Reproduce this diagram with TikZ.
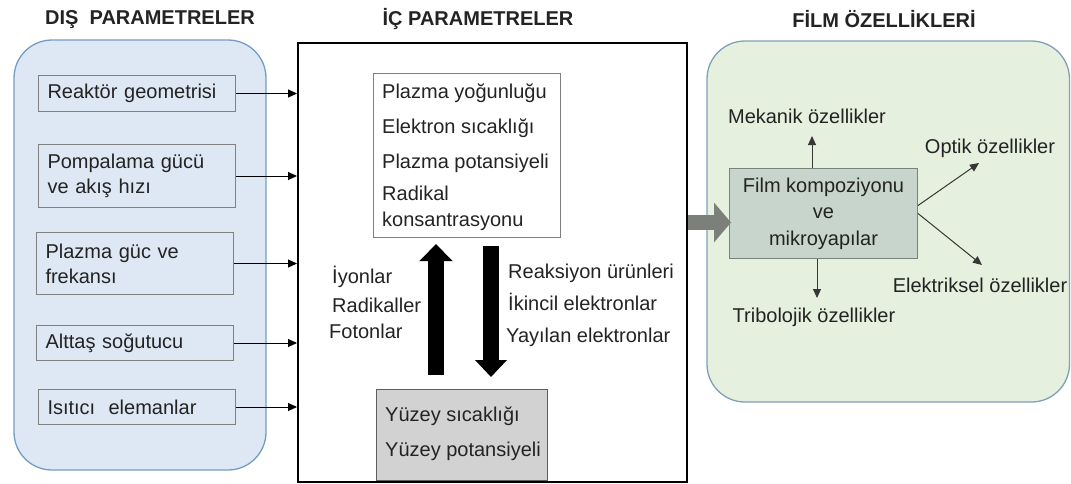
\documentclass[tikz,border=0pt]{standalone}
\usepackage{fontspec}
\setmainfont{Liberation Sans}
\usetikzlibrary{arrows.meta}

\definecolor{textc}{RGB}{35,35,35}
\definecolor{panelBlue}{RGB}{221,232,244}
\definecolor{edgeBlue}{RGB}{118,156,194}
\definecolor{panelGreen}{RGB}{230,240,222}
\definecolor{edgeGreen}{RGB}{128,160,186}
\definecolor{boxEdge}{RGB}{128,128,128}
\definecolor{filmFill}{RGB}{200,213,204}
\definecolor{filmEdge}{RGB}{120,132,122}
\definecolor{surfFill}{RGB}{210,210,210}
\definecolor{surfEdge}{RGB}{95,95,95}
\definecolor{bigGray}{RGB}{125,128,122}
\definecolor{thinArr}{RGB}{55,55,55}

\tikzset{
  bodyfont/.style={font=\fontsize{20}{25}\selectfont, text=textc},
  title/.style={font=\bfseries\fontsize{20}{22}\selectfont, text=textc, inner sep=0pt},
  panel/.style={draw=#1, line width=1.3pt, rounded corners=38pt},
  inbox/.style={draw=boxEdge, fill=panelBlue, line width=1pt, anchor=north west,
    minimum width=197pt, text width=179pt, inner xsep=9pt, inner ysep=0pt,
    align=left, bodyfont},
  lbl/.style={bodyfont, inner sep=0pt, text height=14pt, text depth=4pt},
  feed/.style={line width=1pt, draw=black, -{Triangle[length=9pt,width=8pt]}},
  prop/.style={line width=1pt, draw=thinArr, -{Triangle[length=9pt,width=8pt]}},
  fluxup/.style={line width=16pt, draw=black, -{Triangle[length=17pt,width=32pt]}},
  fluxdown/.style={line width=16pt, draw=black, -{Triangle[length=17pt,width=31pt]}},
  bigarrow/.style={line width=15pt, draw=bigGray, -{Triangle[length=17pt,width=39pt]}},
}

\begin{document}
\begin{tikzpicture}[x=1pt, y=-1pt]
\useasboundingbox[fill=white] (0,0) rectangle (1071,483);

% ---- titles ----
\node[title] (tDis) at (150,19.5) {DIŞ\ \ PARAMETRELER};
\node[title] (tIc) at (478,19.5) {İÇ PARAMETRELER};
\node[title] (tFilm) at (884,19.5) {FİLM ÖZELLİKLERİ};

% ---- external parameters panel ----
\draw[panel=edgeBlue, fill=panelBlue] (14,40) rectangle (266,470);
\node[inbox, minimum height=36pt] (reaktor) at (38,75) {Reaktör geometrisi};
\node[inbox, minimum height=63pt] (pompa) at (38,144) {Pompalama gücü\\ve akış hızı};
\node[inbox, minimum height=62pt] (guc) at (36,232) {Plazma güc ve\\frekansı};
\node[inbox, minimum height=35pt] (alttas) at (36,325) {Alttaş soğutucu};
\node[inbox, minimum height=35pt] (isitici) at (38,389) {Isıtıcı\ \ elemanlar};

% ---- film properties panel ----
\draw[panel=edgeGreen, fill=panelGreen] (707,41) rectangle (1069.5,402);

% ---- internal parameters frame ----
\node[draw=black, line width=1.6pt, fill=white, anchor=north west,
      minimum width=389pt, minimum height=439pt, inner sep=0pt] (ic) at (297,42) {};

% plasma quantities
\node[draw=boxEdge, line width=1pt, fill=white, anchor=north west,
      minimum width=187pt, minimum height=164pt, inner sep=0pt] (plazma) at (373,73) {};
\node[lbl, anchor=west] (p1) at (382,93) {Plazma yoğunluğu};
\node[lbl, anchor=west] (p2) at (382,128) {Elektron sıcaklığı};
\node[lbl, anchor=west] (p3) at (382,163) {Plazma potansiyeli};
\node[lbl, anchor=west] (p4) at (382,195) {Radikal};
\node[lbl, anchor=west] (p5) at (382,221) {konsantrasyonu};

% surface quantities
\node[draw=surfEdge, line width=1pt, fill=surfFill, anchor=north west,
      minimum width=171pt, minimum height=91pt, inner sep=0pt] (yuzey) at (376,389) {};
\node[lbl, anchor=west] (y1) at (385,416) {Yüzey sıcaklığı};
\node[lbl, anchor=west] (y2) at (385,451) {Yüzey potansiyeli};
% redraw frame bottom over the surface box
\draw[line width=1.6pt] (ic.south west) -- (ic.south east);

% species fluxes
\node[lbl, anchor=west] (s1) at (332,278) {İyonlar};
\node[lbl, anchor=west] (s2) at (332,307) {Radikaller};
\node[lbl, anchor=west] (s3) at (329,333) {Fotonlar};
\node[lbl, anchor=west] (r1) at (508,273) {Reaksiyon ürünleri};
\node[lbl, anchor=west] (r2) at (508,305) {İkincil elektronlar};
\node[lbl, anchor=west] (r3) at (506,337) {Yayılan elektronlar};

\coordinate (upx) at (436,0);
\coordinate (downx) at (491,0);
\draw[fluxup] ([yshift=14pt]yuzey.north -| upx) -- ([yshift=-6pt]plazma.south -| upx);
\draw[fluxdown] ([yshift=-8pt]plazma.south -| downx) -- ([yshift=12pt]yuzey.north -| downx);

% external parameters feed the process
\foreach \b in {reaktor,pompa,guc,alttas,isitici}
  \draw[feed] (\b.east) -- (\b.east -| ic.west);

% ---- film node and its properties ----
\node[draw=filmEdge, line width=1pt, fill=filmFill, anchor=north west,
      minimum width=188pt, minimum height=90pt, inner sep=0pt, align=center,
      font=\fontsize{20}{26.5}\selectfont, text=textc] (film) at (729,168)
      {Film kompoziyonu\\ve\\mikroyapılar};
\draw[bigarrow] ([yshift=-9pt]film.west -| ic.east) -- ([yshift=-9pt,xshift=2pt]film.west);

\node[lbl] (mek) at (807,118) {Mekanik özellikler};
\node[lbl] (opt) at (990,148) {Optik özellikler};
\node[lbl] (elk) at (980,287) {Elektriksel özellikler};
\node[lbl] (tri) at (814,317) {Tribolojik özellikler};

\coordinate (mekTip) at (812,136);
\coordinate (optTip) at (979,163);
\coordinate (elkTip) at (982,265);
\coordinate (triTip) at (817,298);
\draw[prop] (film.north -| mekTip) -- (mekTip);
\draw[prop] ([yshift=8pt]film.east) -- (optTip);
\draw[prop] (film.east) -- (elkTip);
\draw[prop] (film.south -| triTip) -- (triTip);
\end{tikzpicture}
\end{document}
